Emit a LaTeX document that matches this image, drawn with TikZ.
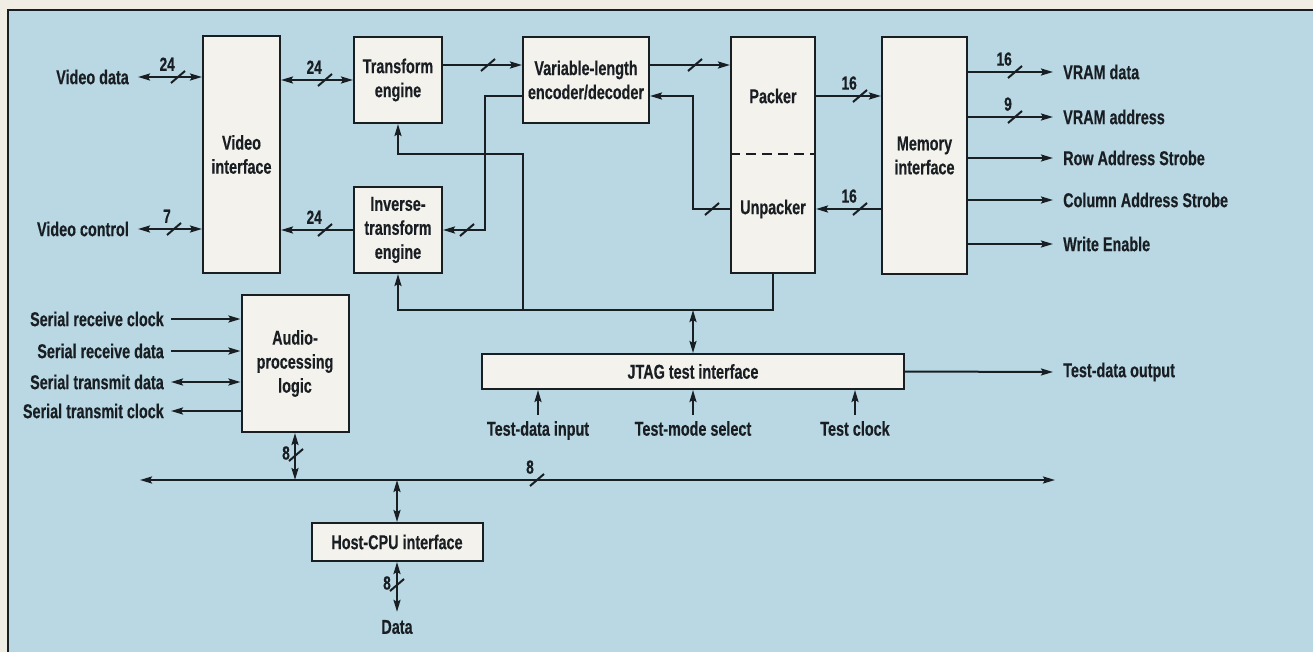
\documentclass[tikz,border=0pt]{standalone}
\usepackage{fontspec}
\newfontfamily\cf{Liberation Sans}[FakeStretch=0.72,BoldFeatures={FakeBold=0.4}]
\usetikzlibrary{arrows.meta,calc}
\definecolor{bgblue}{RGB}{185,216,228}
\definecolor{boxfill}{RGB}{244,242,236}
\definecolor{cream}{RGB}{240,237,228}
\definecolor{ink}{RGB}{25,30,35}
\newcommand{\lblfont}{\cf\bfseries\fontsize{20}{24}\selectfont}
\newcommand{\digfont}{\cf\bfseries\fontsize{19}{22}\selectfont}
\tikzset{
  box/.style={draw=ink, fill=boxfill, line width=2pt, inner sep=0pt, align=center, font=\lblfont, text=ink},
  txt/.style={inner sep=0pt, align=center, font=\lblfont, text=ink},
  digit/.style={inner sep=0pt, font=\digfont, text=ink},
  conn/.style={draw=ink, line width=2pt},
  bw/.pic={\draw[conn] (-7,6) -- (7,-6); \node[digit,anchor=south east] at (-3,-6) {#1};},
  bwo/.pic={\draw[conn] (-7,6) -- (7,-6);},
  bwv/.pic={\draw[conn] (-7,6) -- (7,-6); \node[digit,anchor=east] at (-6,-2) {#1};},
}
\begin{document}
\begin{tikzpicture}[x=1pt,y=-1pt,>={Stealth[length=12pt,width=7pt,inset=2pt]}]
\useasboundingbox (0,0) rectangle (1313,652);
\fill[cream] (0,0) rectangle (1313,652);
\fill[bgblue] (8,10) rectangle (1313,652);
\draw[ink,line width=2pt] (8,652) -- (8,10) -- (1313,10);

% blocks
\node[box, minimum width=77pt, minimum height=237pt] (vi) at (241.5,154.5) {Video\\interface};
\node[box, minimum width=88pt, minimum height=86pt] (te) at (398,80) {Transform\\engine};
\node[box, minimum width=88pt, minimum height=86pt] (ite) at (398,230) {Inverse-\\transform\\engine};
\node[box, minimum width=126pt, minimum height=86pt] (vlc) at (586,80) {Variable-length\\encoder/decoder};
\node[box, minimum width=84pt, minimum height=236pt] (pu) at (773,155) {};
\node[txt] (pk) at (773,96) {Packer};
\node[txt] (unp) at (773,209) {Unpacker};
\draw[conn, dash pattern=on 10pt off 6pt] (pu.west |- 0,154) -- (pu.east |- 0,154);
\node[box, minimum width=85pt, minimum height=237pt] (mem) at (924.5,155.5) {Memory\\interface};
\node[box, minimum width=107pt, minimum height=137pt] (ap) at (295,363.5) {Audio-\\processing\\logic};
\node[box, minimum width=422pt, minimum height=35pt] (jt) at (693,371.5) {JTAG test interface};
\node[box, minimum width=171pt, minimum height=38pt] (host) at (397,542) {Host-CPU interface};

% external labels
\node[txt, anchor=east] (vdat) at (129,77) {Video data};
\node[txt, anchor=east] (vctl) at (129,229) {Video control};
\node[txt, anchor=west] (vrd) at (1063,72) {VRAM data};
\node[txt, anchor=west] (vra) at (1063,117) {VRAM address};
\node[txt, anchor=west] (ras) at (1063,158) {Row Address Strobe};
\node[txt, anchor=west] (cas) at (1063,200) {Column Address Strobe};
\node[txt, anchor=west] (we) at (1063,244) {Write Enable};
\node[txt, anchor=east] (src) at (164,319) {Serial receive clock};
\node[txt, anchor=east] (srd) at (164,351) {Serial receive data};
\node[txt, anchor=east] (std) at (164,382) {Serial transmit data};
\node[txt, anchor=east] (stc) at (164,411) {Serial transmit clock};
\node[txt, anchor=north] (tdi) at (538,421) {Test-data input};
\node[txt, anchor=north] (tms) at (693,421) {Test-mode select};
\node[txt, anchor=north] (tck) at (855,421) {Test clock};
\node[txt, anchor=west] (tdo) at (1063,372) {Test-data output};
\node[txt] (data) at (397,627) {Data};

\coordinate (busL) at (140,480);
\coordinate (busR) at (1055,480);
\coordinate (jn) at (523,310);

% video side
\draw[conn,<->] ([xshift=9pt]vdat.east) -- (vdat.east -| vi.west);
\pic at (178,77) {bw=24};
\draw[conn,<->] ([xshift=9pt]vctl.east) -- (vctl.east -| vi.west);
\pic at (174,229) {bw=7};
\draw[conn,<->] (te.west -| vi.east) -- (te.west);
\pic at (325,80) {bw=24};
\draw[conn,->] (ite.west) -- (ite.west -| vi.east);
\pic at (325,230) {bw=24};

% transform / VLC / packer
\draw[conn,->] ([yshift=15pt]te.east) -- ([yshift=15pt]te.east -| vlc.west);
\pic at (488,65) {bwo};
\draw[conn,->] ([yshift=-16pt]vlc.west) -| ($(ite.east)+(42,0)$) -- (ite.east);
\pic at (467,230) {bwo};
\draw[conn,->] ([yshift=15pt]vlc.east) -- ([yshift=15pt]vlc.east -| pu.west);
\pic at (695,65) {bwo};
\draw[conn,->] (pu.west |- unp) -- ($(pu.west |- unp)+(-37,0)$) |- ([yshift=-16pt]vlc.east);
\pic at (712,209) {bwo};

% packer / memory
\draw[conn,->] (pu.east |- pk) -- (mem.west |- pk);
\pic at (860,96) {bw=16};
\draw[conn,->] (mem.west |- unp) -- (pu.east |- unp);
\pic at (860,209) {bw=16};

% memory outputs
\draw[conn,->] (mem.east |- vrd) -- ([xshift=-10pt]vrd.west);
\pic at (1015,72) {bw=16};
\draw[conn,->] (mem.east |- vra) -- ([xshift=-10pt]vra.west);
\pic at (1015,117) {bw=9};
\draw[conn,->] (mem.east |- ras) -- ([xshift=-10pt]ras.west);
\draw[conn,->] (mem.east |- cas) -- ([xshift=-10pt]cas.west);
\draw[conn,->] (mem.east |- we) -- ([xshift=-10pt]we.west);

% internal control bus
\draw[conn,->] (pu.south) |- (ite.south |- jn) -- (ite.south);
\draw[conn,->] (jn) |- ($(te.south)+(0,30)$) -- (te.south);
\draw[conn,<->] (jt.north |- jn) -- (jt.north);

% JTAG
\draw[conn,->] ([yshift=6pt]tdi.north) -- (tdi.north |- jt.south);
\draw[conn,->] ([yshift=6pt]tms.north) -- (tms.north |- jt.south);
\draw[conn,->] ([yshift=6pt]tck.north) -- (tck.north |- jt.south);
\draw[conn,->] (jt.east) -- ([xshift=-10pt]tdo.west);

% audio
\draw[conn,->] ([xshift=7pt]src.east) -- (src.east -| ap.west);
\draw[conn,->] ([xshift=7pt]srd.east) -- (srd.east -| ap.west);
\draw[conn,<->] ([xshift=7pt]std.east) -- (std.east -| ap.west);
\draw[conn,->] (stc.east -| ap.west) -- ([xshift=7pt]stc.east);

% host bus
\draw[conn,<->] (busL) -- (busR);
\pic at (537,480) {bw=8};
\draw[conn,<->] (ap.south) -- (ap.south |- busL);
\pic at (296,455) {bwv=8};
\draw[conn,<->] (host.north |- busL) -- (host.north);
\draw[conn,<->] (host.south) -- ([yshift=8pt]data.north);
\pic at (397,585) {bwv=8};
\end{tikzpicture}
\end{document}
